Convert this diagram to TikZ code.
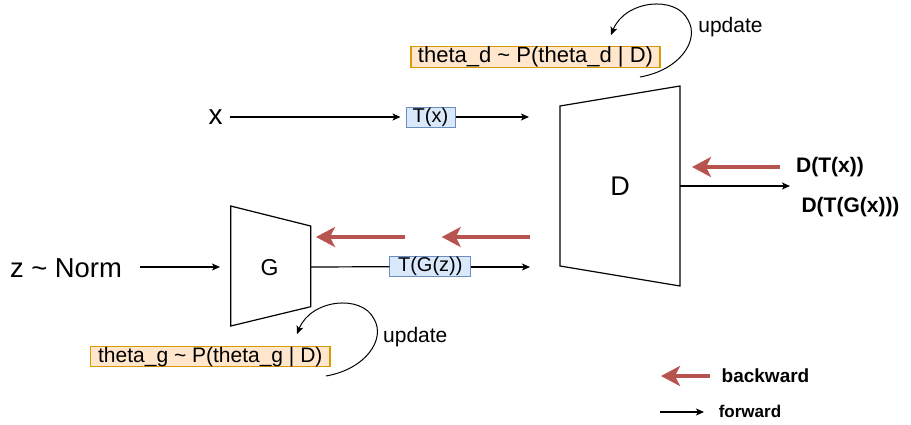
\documentclass[tikz,border=0pt]{standalone}
\usepackage{fontspec}
\setmainfont{Liberation Sans}
\usetikzlibrary{arrows.meta}

\definecolor{orangefill}{HTML}{FFE6CC}
\definecolor{orangeline}{HTML}{D79B00}
\definecolor{bluefill}{HTML}{DAE8FC}
\definecolor{blueline}{HTML}{6C8EBF}
\definecolor{backred}{HTML}{B85450}

\tikzset{
  fwd/.style={line width=1.2pt, -{Stealth[length=8pt,width=7pt,inset=2pt]}},
  bwd/.style={line width=4pt, draw=backred, -{Stealth[length=19pt,width=20pt,inset=5pt]}},
  upd/.style={line width=1pt, -{Stealth[length=8pt,width=7pt,inset=2pt]}},
  distbox/.style={draw=orangeline, fill=orangefill, line width=1.2pt, inner sep=0pt,
    minimum height=20pt},
  featbox/.style={draw=blueline, fill=bluefill, line width=1pt, inner sep=0pt,
    minimum height=20pt, font=\fontsize{20}{24}\selectfont},
  net/.style={line width=1.2pt},
}

\begin{document}
\begin{tikzpicture}[x=1pt, y=-1pt]
    \useasboundingbox (0,0) rectangle (911,424);

    % Discriminator
    \draw[net] (560,106) -- (680,86) -- (680,286) -- (560,266) -- cycle;
    \node (dnet) at (620,186) {\fontsize{27}{30}\selectfont D};
    \coordinate (din) at (529,117);
    \coordinate (dfake) at (530,267);
    \coordinate (dout) at (680,186);
    \coordinate (dres) at (790,186);

    % Generator
    \draw[net] (230.7,206) -- (310.7,226) -- (310.7,306.7) -- (230.7,326) -- cycle;
    \node (gnet) at (269.5,268) {\fontsize{23}{26}\selectfont G};
    \coordinate (gin) at (230.7,267);
    \coordinate (gout) at (310.7,267);

    % Inputs
    \node[inner sep=0pt] (xin) at (215.5,117) {\fontsize{28}{30}\selectfont x};
    \node[inner sep=0pt] (zin) at (66,268) {\fontsize{27.4}{30}\selectfont z \char`\~{} Norm};

    % Transformed samples
    \node[featbox, minimum width=49pt] (tx) at (430.5,117) {T(x)};
    \node[featbox, minimum width=80.7pt] (tgz) at (430.3,266.7) {T(G(z))};

    % Forward pass
    \draw[fwd, shorten <=7pt, shorten >=5pt] (xin.east) -- (tx.west);
    \draw[fwd] (tx) -- (din);
    \draw[fwd, shorten <=18pt, shorten >=10.7pt] (zin.east |- gin) -- (gin);
    \draw[net] (gout) -- (tgz.west);
    \draw[fwd] (tgz.east |- dfake) -- (dfake);
    \draw[fwd] (dout) -- (dres);

    % Outputs
    \node[font=\fontsize{21}{24}\selectfont\bfseries, inner sep=0pt] (dreal) at (830,167) {D(T(x))};
    \node[font=\fontsize{21}{24}\selectfont\bfseries, inner sep=0pt] (dgen) at (850.5,207) {D(T(G(x)))};

    % Backward pass
    \coordinate (b1s) at (780,167);  \coordinate (b1e) at (692,167);
    \coordinate (b2s) at (530,237);  \coordinate (b2e) at (441.7,237);
    \coordinate (b3s) at (405,237);  \coordinate (b3e) at (316,237);
    \draw[bwd] (b1s) -- (b1e);
    \draw[bwd] (b2s) -- (b2e);
    \draw[bwd] (b3s) -- (b3e);

    % Posterior updates
    \node[distbox, minimum width=249pt, font=\fontsize{22}{24}\selectfont] (thd) at (535.5,57)
        {theta\_d \char`\~{} P(theta\_d | D)};
    \node[distbox, minimum width=239.3pt, font=\fontsize{21}{24}\selectfont] (thg) at (210.3,356.7)
        {theta\_g \char`\~{} P(theta\_g | D)};
    \coordinate (uds) at (640,77);  \coordinate (ude) at (611,35);
    \coordinate (ugs) at (326,376); \coordinate (uge) at (297,334);
    \draw[upd] (uds) .. controls (680,70) and (700,40) .. (688,20)
               .. controls (676,-5) and (625,0) .. (ude);
    \draw[upd] (ugs) .. controls (366,369) and (386,339) .. (374,319)
               .. controls (362,294) and (311,299) .. (uge);
    \node[font=\fontsize{21}{24}\selectfont, inner sep=0pt] (updd) at (730.5,27) {update};
    \node[font=\fontsize{21}{24}\selectfont, inner sep=0pt] (updg) at (415.3,336.7) {update};

    % Legend
    \coordinate (lbs) at (710,376); \coordinate (lbe) at (661,376);
    \coordinate (lfs) at (660,412); \coordinate (lfe) at (704,412);
    \draw[bwd] (lbs) -- (lbe);
    \draw[fwd] (lfs) -- (lfe);
    \node[font=\fontsize{19}{22}\selectfont\bfseries, inner sep=0pt] (lback) at (765.5,376) {backward};
    \node[font=\fontsize{17}{20}\selectfont\bfseries, inner sep=0pt] (lfwd) at (750,411) {forward};
\end{tikzpicture}
\end{document}
